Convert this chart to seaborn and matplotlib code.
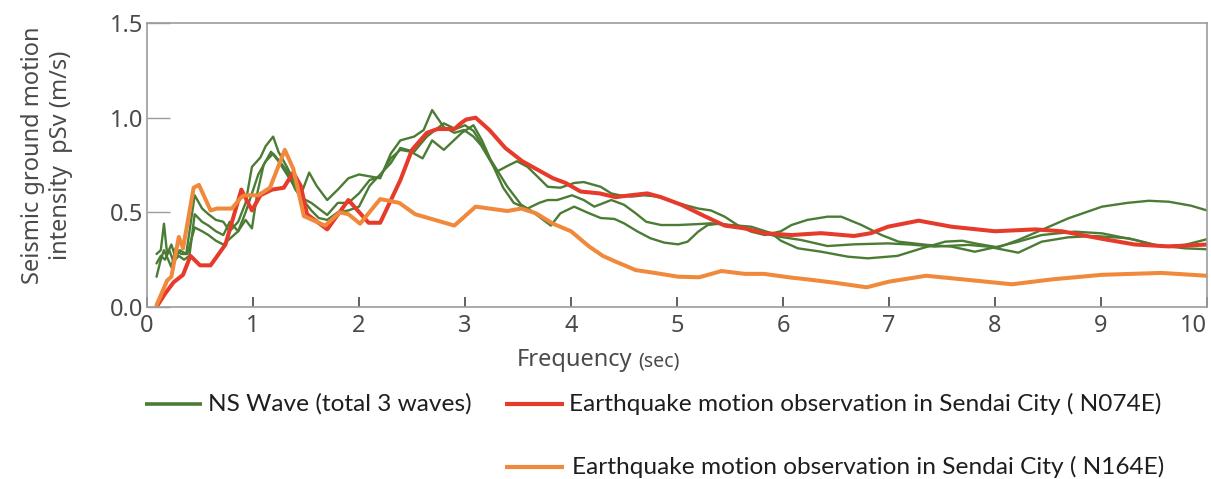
import numpy as np
import pandas as pd
import matplotlib
matplotlib.use("Agg")
import matplotlib.pyplot as plt
import seaborn as sns
from matplotlib.lines import Line2D

# ---------------- data ----------------
ns1_x = [0.09, 0.13, 0.16, 0.19, 0.23, 0.27, 0.31, 0.37, 0.45, 0.52, 0.58, 0.65, 0.72, 0.78, 0.86, 0.93,
         0.99, 1.07, 1.12, 1.19, 1.24, 1.32, 1.40, 1.47, 1.53, 1.60, 1.70, 1.80, 1.90, 2.00, 2.10, 2.20,
         2.30, 2.39, 2.52, 2.61, 2.69, 2.80, 2.90, 2.99, 3.08, 3.15, 3.30, 3.40, 3.49, 3.59, 3.70, 3.78,
         3.90, 4.03, 4.12, 4.28, 4.38, 4.46, 4.57, 4.69, 4.82, 5.01, 5.20, 5.32, 5.45, 5.57, 5.70, 5.83,
         5.98, 6.08, 6.23, 6.42, 6.55, 6.74, 6.93, 7.09, 7.36, 7.59, 7.81, 8.03, 8.22, 8.44, 8.75, 9.01,
         9.32, 9.57, 9.79, 10.0]
ns1_y = [0.28, 0.30, 0.44, 0.28, 0.33, 0.26, 0.30, 0.28, 0.59, 0.52, 0.49, 0.46, 0.45, 0.40, 0.45, 0.55,
         0.74, 0.79, 0.85, 0.90, 0.82, 0.74, 0.65, 0.62, 0.71, 0.64, 0.565, 0.62, 0.68, 0.70, 0.69, 0.68,
         0.81, 0.88, 0.90, 0.935, 1.04, 0.95, 0.92, 0.935, 0.90, 0.855, 0.715, 0.745, 0.77, 0.74, 0.68, 0.635,
         0.63, 0.655, 0.66, 0.635, 0.60, 0.59, 0.583, 0.59, 0.583, 0.548, 0.52, 0.51, 0.477, 0.433, 0.398, 0.38,
         0.40, 0.433, 0.46, 0.477, 0.477, 0.433, 0.38, 0.345, 0.328, 0.319, 0.292, 0.319, 0.345, 0.38, 0.398, 0.389,
         0.354, 0.319, 0.328, 0.358]

ns2_x = [0.09, 0.13, 0.17, 0.21, 0.25, 0.30, 0.35, 0.40, 0.45, 0.52, 0.58, 0.65, 0.72, 0.78, 0.86, 0.93,
         0.99, 1.04, 1.10, 1.17, 1.24, 1.32, 1.40, 1.48, 1.55, 1.62, 1.70, 1.80, 1.90, 2.00, 2.10, 2.20,
         2.30, 2.39, 2.49, 2.60, 2.69, 2.80, 2.97, 3.08, 3.16, 3.24, 3.40, 3.53, 3.59, 3.70, 3.78, 3.87,
         4.01, 4.12, 4.22, 4.38, 4.50, 4.61, 4.71, 4.85, 5.01, 5.20, 5.32, 5.51, 5.70, 5.89, 5.98, 6.14,
         6.36, 6.61, 6.80, 7.08, 7.31, 7.53, 7.69, 7.84, 8.03, 8.22, 8.44, 8.69, 9.01, 9.25, 9.45, 9.64,
         9.85, 10.0]
ns2_y = [0.23, 0.27, 0.25, 0.30, 0.24, 0.27, 0.25, 0.27, 0.49, 0.45, 0.43, 0.40, 0.38, 0.45, 0.40, 0.46,
         0.415, 0.60, 0.75, 0.82, 0.77, 0.70, 0.63, 0.57, 0.55, 0.52, 0.486, 0.55, 0.55, 0.60, 0.67, 0.69,
         0.785, 0.83, 0.82, 0.785, 0.88, 0.83, 0.92, 0.96, 0.88, 0.78, 0.635, 0.54, 0.52, 0.55, 0.565, 0.565,
         0.59, 0.565, 0.53, 0.565, 0.54, 0.495, 0.45, 0.433, 0.433, 0.438, 0.442, 0.433, 0.424, 0.39, 0.35, 0.31,
         0.292, 0.266, 0.257, 0.27, 0.31, 0.345, 0.35, 0.333, 0.315, 0.354, 0.407, 0.468, 0.53, 0.55, 0.561, 0.556,
         0.535, 0.51]

ns3_x = [0.09, 0.13, 0.16, 0.20, 0.23, 0.27, 0.32, 0.38, 0.45, 0.52, 0.58, 0.65, 0.72, 0.78, 0.86, 0.93,
         0.99, 1.05, 1.12, 1.19, 1.25, 1.32, 1.40, 1.48, 1.55, 1.62, 1.70, 1.80, 1.90, 2.00, 2.10, 2.20,
         2.30, 2.39, 2.52, 2.64, 2.80, 2.91, 3.00, 3.08, 3.18, 3.27, 3.36, 3.46, 3.62, 3.81, 3.90, 4.03,
         4.15, 4.28, 4.41, 4.50, 4.63, 4.75, 4.88, 5.01, 5.10, 5.20, 5.29, 5.40, 5.51, 5.64, 5.80, 5.98,
         6.17, 6.42, 6.67, 6.99, 7.20, 7.43, 7.75, 7.93, 8.22, 8.44, 8.69, 8.94, 9.26, 9.51, 9.79, 10.0]
ns3_y = [0.16, 0.25, 0.30, 0.25, 0.21, 0.31, 0.28, 0.28, 0.42, 0.40, 0.38, 0.35, 0.33, 0.36, 0.40, 0.50,
         0.60, 0.70, 0.77, 0.81, 0.77, 0.72, 0.62, 0.56, 0.51, 0.47, 0.46, 0.50, 0.51, 0.53, 0.64, 0.70,
         0.76, 0.84, 0.82, 0.90, 0.97, 0.94, 0.96, 0.93, 0.84, 0.74, 0.63, 0.55, 0.51, 0.43, 0.495, 0.53,
         0.50, 0.47, 0.465, 0.442, 0.398, 0.363, 0.34, 0.331, 0.345, 0.398, 0.433, 0.44, 0.43, 0.416, 0.39, 0.37,
         0.354, 0.322, 0.331, 0.336, 0.33, 0.319, 0.328, 0.319, 0.287, 0.345, 0.368, 0.375, 0.363, 0.328, 0.31, 0.305]

n074e_x = [0.09, 0.17, 0.25, 0.34, 0.41, 0.50, 0.60, 0.74, 0.89, 0.99, 1.07, 1.18, 1.29, 1.38, 1.45, 1.51,
           1.70, 1.90, 2.09, 2.20, 2.39, 2.50, 2.64, 2.74, 2.90, 2.96, 3.01, 3.10, 3.23, 3.38, 3.54, 3.83,
           3.95, 4.09, 4.27, 4.42, 4.56, 4.72, 4.85, 5.04, 5.26, 5.45, 5.64, 5.82, 6.08, 6.36, 6.67, 6.83,
           6.99, 7.28, 7.59, 8.00, 8.38, 8.63, 9.01, 9.32, 9.64, 10.0]
n074e_y = [0.00, 0.07, 0.13, 0.17, 0.27, 0.22, 0.22, 0.33, 0.62, 0.51, 0.59, 0.62, 0.63, 0.71, 0.64, 0.49,
           0.41, 0.565, 0.445, 0.445, 0.67, 0.83, 0.92, 0.94, 0.94, 0.97, 0.99, 1.00, 0.935, 0.84, 0.77, 0.68,
           0.655, 0.61, 0.60, 0.58, 0.59, 0.60, 0.58, 0.54, 0.48, 0.43, 0.415, 0.39, 0.38, 0.39, 0.375, 0.39,
           0.424, 0.456, 0.424, 0.40, 0.41, 0.40, 0.36, 0.33, 0.32, 0.33]

n164e_x = [0.09, 0.19, 0.23, 0.30, 0.34, 0.44, 0.49, 0.60, 0.66, 0.80, 0.89, 0.92, 1.05, 1.16, 1.30, 1.38,
           1.48, 1.68, 1.82, 1.90, 2.01, 2.20, 2.38, 2.53, 2.90, 3.10, 3.40, 3.53, 3.67, 3.83, 4.00, 4.17,
           4.30, 4.42, 4.61, 4.79, 5.01, 5.21, 5.42, 5.64, 5.82, 6.08, 6.23, 6.49, 6.79, 7.00, 7.35, 7.75,
           8.16, 8.54, 9.01, 9.57, 10.0]
n164e_y = [0.01, 0.14, 0.16, 0.37, 0.31, 0.63, 0.645, 0.51, 0.52, 0.52, 0.58, 0.59, 0.59, 0.63, 0.83, 0.73,
           0.48, 0.43, 0.50, 0.49, 0.44, 0.57, 0.55, 0.49, 0.43, 0.53, 0.507, 0.52, 0.495, 0.44, 0.40, 0.32,
           0.27, 0.24, 0.195, 0.18, 0.16, 0.157, 0.19, 0.175, 0.175, 0.155, 0.146, 0.128, 0.104, 0.134, 0.165, 0.143,
           0.12, 0.146, 0.17, 0.18, 0.165]

x_ticks = [0, 1, 2, 3, 4, 5, 6, 7, 8, 9, 10]
y_ticks = [0.0, 0.5, 1.0, 1.5]
y_ticklabels = ["0.0", "0.5", "1.0", "1.5"]

legend_labels = ["NS Wave (total 3 waves)",
                 "Earthquake motion observation in Sendai City ( N074E)",
                 "Earthquake motion observation in Sendai City ( N164E)"]

# ---------------- styling ----------------
GREEN = "#4b7c35"
RED = "#e63b2b"
ORANGE = "#f0893b"
SPINE = "#9c9c9c"
TXT = "#4a4a4a"

sns.set_theme(style="white")
plt.rcParams["font.family"] = ["Noto Sans", "DejaVu Sans"]

W, H = 1211, 479
fig = plt.figure(figsize=(W / 100, H / 100), dpi=100)
ax = fig.add_axes([147 / W, 1 - 307 / H, (1207 - 147) / W, (307 - 23) / H])

green_df = pd.concat([
    pd.DataFrame({"freq": ns1_x, "psv": ns1_y, "wave": "1"}),
    pd.DataFrame({"freq": ns2_x, "psv": ns2_y, "wave": "2"}),
    pd.DataFrame({"freq": ns3_x, "psv": ns3_y, "wave": "3"}),
], ignore_index=True)
red_df = pd.DataFrame({"freq": n074e_x, "psv": n074e_y})
orange_df = pd.DataFrame({"freq": n164e_x, "psv": n164e_y})

sns.lineplot(data=green_df, x="freq", y="psv", units="wave", estimator=None, sort=False,
             color=GREEN, linewidth=1.7, ax=ax, legend=False)
sns.lineplot(data=red_df, x="freq", y="psv", estimator=None, sort=False,
             color=RED, linewidth=2.9, ax=ax, legend=False)
sns.lineplot(data=orange_df, x="freq", y="psv", estimator=None, sort=False,
             color=ORANGE, linewidth=2.9, ax=ax, legend=False)

ax.set_xlim(0, 10)
ax.set_ylim(0, 1.5)
ax.set_xticks(x_ticks)
ax.set_xticklabels([str(t) for t in x_ticks])
ax.set_yticks(y_ticks)
ax.set_yticklabels(y_ticklabels)
ax.set_xlabel("")
ax.set_ylabel("")
ax.tick_params(axis="y", direction="in", length=16.5, width=1.0, color=SPINE, pad=3,
               labelsize=17, labelcolor=TXT, left=True)
ax.tick_params(axis="x", direction="in", length=7, width=1.3, color="#555555", pad=5,
               labelsize=17, labelcolor=TXT, bottom=True)
ax.get_xticklabels()[-1].set_horizontalalignment("right")
for s in ax.spines.values():
    s.set_color(SPINE)
    s.set_linewidth(1.2)
    s.set_visible(True)

# axis titles
fig.text(47 / W, 1 - 155 / H, "Seismic ground motion\nintensity  pSv (m/s)", rotation=90,
         ha="center", va="center", multialignment="center", fontsize=17, color=TXT,
         linespacing=1.25)
fig.text(517 / W, 1 - 366 / H, "Frequency", ha="left", va="baseline", fontsize=17, color=TXT)
fig.text(638 / W, 1 - 366 / H, "(sec)", ha="left", va="baseline", fontsize=14, color=TXT)

# legend (manual layout)
LEG_FONT = ["Lato", "DejaVu Sans"]
def leg(x0, x1, y, color, lw, label, tx):
    fig.add_artist(Line2D([x0 / W, x1 / W], [1 - y / H, 1 - y / H], transform=fig.transFigure,
                          color=color, linewidth=lw, solid_capstyle="butt"))
    fig.text(tx / W, 1 - y / H, label, ha="left", va="center", fontsize=17.6,
             family=LEG_FONT, color="#1e1e1e")

leg(145, 202, 404, GREEN, 2.6, legend_labels[0], 208)
leg(505, 564, 404, RED, 3.0, legend_labels[1], 569)
leg(505, 564, 467, ORANGE, 3.0, legend_labels[2], 572)

fig.savefig("out.png", dpi=100, facecolor="white")
